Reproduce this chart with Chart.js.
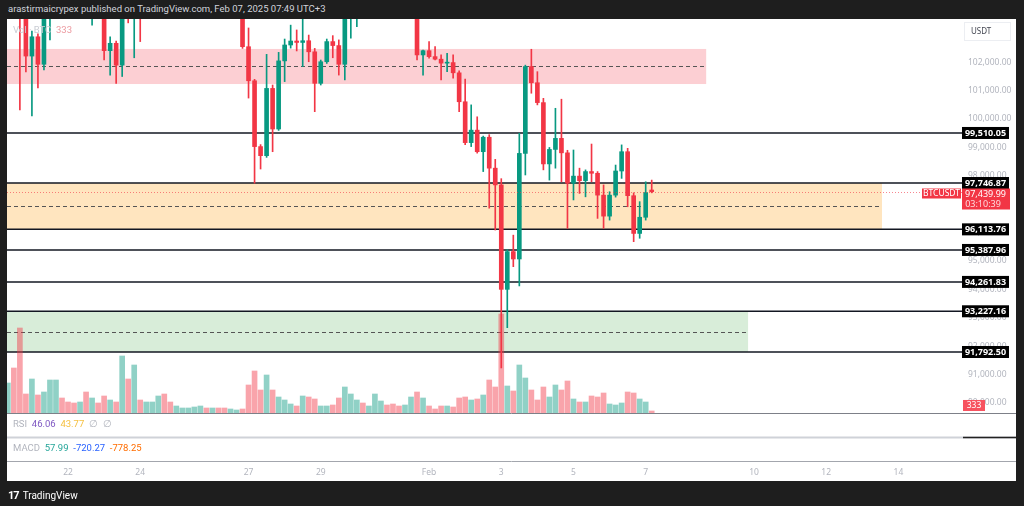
<!DOCTYPE html>
<html>
<head>
<meta charset="utf-8">
<script src="https://cdn.jsdelivr.net/npm/chart.js@4.4.1/dist/chart.umd.min.js"></script>
<style>
html, body { margin: 0; padding: 0; background: #1e1e1e; width: 1024px; height: 506px; overflow: hidden; font-family: Roboto, "Noto Sans", sans-serif; }
#hdr { position: absolute; left: 8px; top: 3px; color: #d1d4dc; font-size: 9.5px; }
#panel { position: absolute; left: 7px; top: 19px; width: 1009px; height: 462px; background: #fff; }
#chart { position: absolute; left: 0; top: 0; }
.legend { position: absolute; left: 6px; font-size: 9.5px; white-space: pre; }
#foot { position: absolute; left: 8px; top: 489px; color: #fff; font-size: 10px; }
#foot b { font-size: 11px; letter-spacing: -1px; margin-right: 4px; }
</style>
</head>
<body>
<div id="hdr">arastirmaicrypex published on TradingView.com, Feb 07, 2025 07:49 UTC+3</div>
<div id="panel">
  <canvas id="chart" width="1009" height="462"></canvas>
  <div class="legend" style="top:5px"><span style="color:#c9ccd3">Vol · BTC</span>  <span style="color:#ec9aa0">333</span></div>
  <div class="legend" style="top:399px"><span style="color:#b2b5be">RSI</span>  <span style="color:#7e57c2">46.06</span>  <span style="color:#f5c040">43.77</span>  <span style="color:#b2b5be">∅  ∅</span></div>
  <div class="legend" style="top:423px"><span style="color:#b2b5be">MACD</span>  <span style="color:#26a69a">57.99</span>  <span style="color:#2962ff">-720.27</span>  <span style="color:#ff6d00">-778.25</span></div>
</div>
<div id="foot"><b>17</b>TradingView</div>

<script>
// BTCUSDT 4h candles, Jan 20 11:00 -> Feb 7 07:00 (UTC+3)
const open = [105000,106800,105600,103950,102220,102900,101930,104300,104900,105600,105100,104800,104500,104900,104300,104700,104200,102410,102670,101900,104300,103900,104400,103950,104600,105400,106200,105700,105300,105500,105700,105800,105950,106100,105900,106000,105700,105000,105200,105300,102550,101350,99030,98710,101080,99650,102050,102610,102750,102700,102760,102370,101260,102020,102730,102590,101930,103900,104300,104600,104200,104700,105500,105900,105500,105100,104800,105100,105400,102260,102410,102200,102110,101970,101990,101630,100610,99170,99610,98850,99360,98270,97680,94000,95330,95070,98790,101850,101280,100580,98420,98930,99320,98810,97740,97990,97830,98150,98090,97320,96580,97320,98170,98850,97300,95970,96540,97500];
const high = [107500,109500,106200,104300,103100,103000,104600,105300,106000,106100,105400,105100,105200,105300,105000,104900,104400,102900,102750,104500,104600,104700,104800,105000,105700,106800,106600,106000,105800,105900,106000,106100,106300,106200,106200,106100,105800,105300,105500,105400,103210,101400,99100,102280,101200,102350,102820,103310,103140,103700,102960,102490,102080,102820,102940,102790,104200,104600,104900,104800,104900,105800,106200,106000,105700,105300,105300,105700,105600,102430,102730,102550,102260,102320,102260,101700,101410,100500,100080,99400,99450,98580,97900,95400,95910,99500,101900,102460,101670,100730,99000,100380,100700,98900,98910,98270,98210,99120,98150,97680,97440,98380,99090,98970,97400,97090,97790,97850];
const low = [104600,105000,100320,101660,100110,101100,101730,102790,104500,104700,104300,104000,104100,103900,103310,103800,102080,101550,101260,101500,103390,102160,102730,103700,104400,105200,105400,105000,105100,105300,105500,105600,105800,105700,105800,105500,104900,104800,104900,102490,100740,97740,98240,98650,98850,99600,101320,102500,102400,101850,102020,100260,101200,101960,102160,101550,101380,102850,103260,103900,104000,104600,105300,105200,104900,104500,104600,104900,102080,101550,102150,102080,101380,101670,101440,100260,99100,99030,98800,98150,96860,96090,91230,92650,94800,94120,98030,100910,100500,98210,97850,98270,97790,96150,97150,97380,97260,97790,96500,96150,96440,97250,97910,96910,95680,95800,96440,97400];
const close = [106800,105600,103950,102220,102900,101930,104300,104900,105600,105100,104800,104500,104900,104300,104700,104200,102410,102670,101900,104300,103900,104400,103950,104600,105400,106200,105700,105300,105500,105700,105800,105950,106100,105900,106000,105700,105000,105200,105300,102550,101350,99030,98710,101080,99650,102050,102610,102750,102700,102760,102370,101260,102020,102730,102590,101930,103900,104300,104600,104200,104700,105500,105900,105500,105100,104800,105100,105400,102260,102410,102200,102110,101970,101990,101630,100610,99170,99610,98850,99360,98270,97680,94000,95330,95070,98790,101850,101280,100580,98420,98930,99320,98810,97740,97990,97830,98150,98090,97320,96580,97320,98170,98850,97300,95970,96540,97410,97439.99];
const volume = [4950,7425,14025,3135,5610,2970,3465,5445,5445,2475,1815,1650,1815,3465,2475,1650,2805,2145,1815,9405,5610,7920,2145,1815,1815,2805,3135,1815,1155,825,825,990,1155,825,825,825,825,660,495,660,4620,6930,3795,6270,3795,2640,2145,1485,1155,2805,2640,2310,1155,1155,1320,2475,4290,3135,2145,1650,1155,3135,1980,1320,1485,1155,1320,2640,3465,2475,1155,660,1155,1155,990,2475,2640,2145,2310,2970,5445,4290,16335,4455,3630,7920,5775,3795,2145,4290,2640,4620,3795,5280,2310,1815,1815,2805,2640,3300,1485,1320,1650,3465,3300,2310,1815,333];

// candle open times as day-of-January numbers (Feb 1 = 32), one bar every 4 hours
const times = open.map((_, i) => 20 + 11 / 24 + i * 4 / 24);

// axis labels sit on the first candle of each day (03:00)
const tickDays = [22, 24, 27, 29, 32, 34, 36, 38, 41, 43, 45];
const priceTicks = [90000, 91000, 92000, 93000, 94000, 95000, 96000, 97000, 98000, 99000, 100000, 101000, 102000, 103000];

// horizontal levels and zones
const levels = [99510.05, 97746.87, 96113.76, 95387.96, 94261.83, 93227.16, 91792.50];
const zoneTop = [102470, 97746.87, 93227.16];
const zoneBottom = [101235, 96113.76, 91792.50];
const zoneEnd = [39.80, 44.67, 40.96];
const zoneColors = ['rgba(242,54,69,0.24)', 'rgba(255,152,0,0.25)', 'rgba(76,175,80,0.22)'];
const lastPrice = 97439.99;
const lastVolume = 333;

const UP = '#089981', DOWN = '#f23645';
const isUp = i => close[i] >= open[i];

const fmt = v => v.toLocaleString('en-US', { minimumFractionDigits: 2, maximumFractionDigits: 2 });

const overlay = {
    id: 'overlay',
    beforeDatasetsDraw(chart) {
        const { ctx, chartArea: a, scales: { x, y } } = chart;
        ctx.save();
        ctx.beginPath();
        ctx.rect(a.left, a.top, a.right - a.left, a.bottom - a.top);
        ctx.clip();

        // zones with dashed middle lines
        zoneTop.forEach((top, k) => {
            const y1 = y.getPixelForValue(top);
            const y2 = y.getPixelForValue(zoneBottom[k]);
            const x2 = x.getPixelForValue(zoneEnd[k]);
            ctx.fillStyle = zoneColors[k];
            ctx.fillRect(a.left, y1, x2 - a.left, y2 - y1);
            const ym = Math.round(y.getPixelForValue((top + zoneBottom[k]) / 2)) + 0.5;
            ctx.setLineDash([4, 3]);
            ctx.strokeStyle = '#555';
            ctx.lineWidth = 1;
            ctx.beginPath();
            ctx.moveTo(a.left, ym);
            ctx.lineTo(x2, ym);
            ctx.stroke();
        });
        ctx.restore();

        // level lines
        ctx.save();
        ctx.strokeStyle = '#131722';
        ctx.lineWidth = 1.5;
        levels.forEach(v => {
            const yy = y.getPixelForValue(v);
            ctx.beginPath();
            ctx.moveTo(a.left, yy);
            ctx.lineTo(a.right + 5, yy);
            ctx.stroke();
        });
        ctx.restore();
    },
    afterDraw(chart) {
        const { ctx, chartArea: a, scales: { y, v } } = chart;
        const W = chart.width;
        ctx.save();

        // last price dotted line
        const ly = Math.round(y.getPixelForValue(lastPrice)) + 0.5;
        ctx.setLineDash([1, 2]);
        ctx.strokeStyle = 'rgba(242,54,69,0.6)';
        ctx.lineWidth = 1;
        ctx.beginPath();
        ctx.moveTo(a.left, ly);
        ctx.lineTo(a.right + 4, ly);
        ctx.stroke();
        ctx.setLineDash([]);

        // pane separators
        const sep = (yy, color, w, x0, x1) => {
            ctx.strokeStyle = color;
            ctx.lineWidth = w;
            ctx.beginPath();
            ctx.moveTo(x0, yy);
            ctx.lineTo(x1, yy);
            ctx.stroke();
        };
        sep(a.bottom + 0.5, '#7d8088', 1, 0, W);
        sep(a.bottom + 24.5, '#cfd2d8', 2, 0, W);
        sep(a.bottom + 24.5, '#222', 1.5, a.right + 5, W);
        sep(a.bottom + 48.5, '#a3a6ad', 1, 0, W);

        // USDT box
        ctx.fillStyle = '#fff';
        ctx.fillRect(a.right + 6, 3, 47, 19);
        ctx.strokeStyle = '#eceef2';
        ctx.lineWidth = 1;
        ctx.strokeRect(a.right + 6.5, 3.5, 46, 18);
        ctx.fillStyle = '#434651';
        ctx.font = '8px "Noto Sans"';
        ctx.textBaseline = 'middle';
        ctx.textAlign = 'left';
        ctx.fillText('USDT', a.right + 13, 13);

        // level labels
        ctx.font = 'bold 9px "Noto Sans"';
        ctx.textAlign = 'center';
        levels.forEach(val => {
            const yy = y.getPixelForValue(val);
            ctx.fillStyle = '#000';
            ctx.fillRect(a.right + 4, yy - 6, 47, 12);
            ctx.fillStyle = '#fff';
            ctx.fillText(fmt(val), a.right + 27.5, yy + 0.5);
        });

        // symbol / last price label
        ctx.fillStyle = DOWN;
        ctx.fillRect(a.right - 36, ly - 4, 39, 10);
        ctx.fillRect(a.right + 4, ly - 4, 48, 21);
        ctx.fillStyle = '#fff';
        ctx.font = '8.5px "Noto Sans"';
        ctx.fillText('BTCUSDT', a.right - 16.5, ly + 1);
        ctx.font = '9px "Noto Sans"';
        ctx.fillText(fmt(lastPrice), a.right + 27.5, ly + 2);
        ctx.fillStyle = '#ffd9dc';
        ctx.fillText('03:10:39', a.right + 25, ly + 12);

        // volume label
        const vy = v.getPixelForValue(lastVolume);
        ctx.fillStyle = '#f7525f';
        ctx.fillRect(a.right + 5, vy - 11, 22, 11);
        ctx.fillStyle = '#fff';
        ctx.font = '8.5px "Noto Sans"';
        ctx.fillText(String(lastVolume), a.right + 16, vy - 5);
        ctx.restore();
    }
};

new Chart(document.getElementById('chart').getContext('2d'), {
    type: 'bar',
    data: {
        datasets: [{
            label: 'body',
            data: times.map((t, i) => ({ x: t, y: [open[i], close[i]] })),
            backgroundColor: open.map((_, i) => isUp(i) ? UP : DOWN),
            barThickness: 4,
            minBarLength: 1,
            grouped: false,
            order: 0,
        }, {
            label: 'wick',
            data: times.map((t, i) => ({ x: t, y: [low[i], high[i]] })),
            backgroundColor: open.map((_, i) => isUp(i) ? UP : DOWN),
            barThickness: 1,
            grouped: false,
            order: 1,
        }, {
            label: 'volume',
            yAxisID: 'v',
            data: times.map((t, i) => ({ x: t, y: volume[i] })),
            backgroundColor: open.map((_, i) => isUp(i) ? 'rgba(8,153,129,0.45)' : 'rgba(242,54,69,0.45)'),
            barThickness: 5,
            grouped: false,
            order: 2,
        }]
    },
    options: {
        responsive: false,
        animation: false,
        layout: { padding: 0 },
        plugins: { legend: { display: false }, tooltip: { enabled: false } },
        scales: {
            x: {
                type: 'linear',
                offset: false,
                min: 20.435,
                max: 46.775,
                grid: { display: false, drawTicks: false },
                border: { display: false },
                afterBuildTicks: axis => { axis.ticks = tickDays.map(d => ({ value: d + 0.125 })); },
                afterFit: axis => { axis.height = 68; axis.paddingLeft = 0; axis.paddingRight = 0; },
                ticks: {
                    autoSkip: false,
                    maxRotation: 0,
                    padding: 54,
                    color: '#b2b5be',
                    font: { family: 'Noto Sans', size: 8.5 },
                    callback: val => {
                        const d = Math.floor(val);
                        return d === 32 ? 'Feb' : String(d > 31 ? d - 31 : d);
                    }
                }
            },
            y: {
                position: 'right',
                min: 89643,
                max: 103526,
                grid: { display: false, drawTicks: false },
                border: { display: false },
                afterBuildTicks: axis => { axis.ticks = priceTicks.map(p => ({ value: p })); },
                afterFit: axis => { axis.width = 58; axis.paddingTop = 0; axis.paddingBottom = 0; },
                ticks: {
                    padding: 10,
                    color: '#b2b5be',
                    font: { family: 'Noto Sans', size: 8.5 },
                    callback: val => fmt(val)
                }
            },
            v: {
                display: false,
                min: 0,
                max: 65010,
            }
        }
    },
    plugins: [overlay]
});
</script>
</body>
</html>
